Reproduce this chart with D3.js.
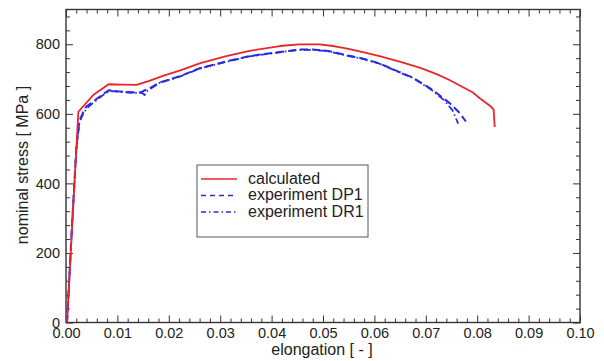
<!DOCTYPE html>
<html>
<head>
<meta charset="utf-8">
<script src="https://cdn.jsdelivr.net/npm/d3@7"></script>
<style>
  html, body { margin: 0; padding: 0; background: #fff; }
  svg { display: block; font-family: "Liberation Sans", Arial, Helvetica, sans-serif; }
</style>
</head>
<body>
<svg id="chart" width="604" height="361"></svg>
<script>
// Tensile test: nominal stress vs elongation
const calcElong  = [0.0002, 0.0024, 0.0053, 0.0083, 0.0110, 0.0137, 0.0162, 0.0190, 0.0221, 0.0260, 0.0310, 0.0357, 0.0416, 0.0454, 0.0493, 0.0520, 0.0545, 0.0580, 0.0610, 0.0649, 0.0688, 0.0720, 0.0745, 0.0790, 0.0805, 0.0826, 0.0832, 0.0834];
const calcStress = [0,      606,    654,    685,    684,    683,    695,    710,    724,    745,    765,    781,    795,    800,    800,    795,    788,    777,    766,    750,    733,    715,    698,    663,    645,    622,    612,    562];

const dp1Elong  = [0.0002, 0.0012, 0.0020, 0.0026, 0.0032, 0.0039, 0.0050, 0.0058, 0.0070, 0.0084, 0.0100, 0.0117, 0.0135, 0.0146, 0.0152, 0.0162, 0.0182, 0.0221, 0.0260, 0.0310, 0.0357, 0.0416, 0.0454, 0.0480, 0.0510, 0.0545, 0.0580, 0.0610, 0.0649, 0.0675, 0.0714, 0.0747, 0.0765, 0.0778];
const dp1Stress = [0,      290,    500,    580,    600,    620,    632,    641,    655,    668,    665,    663,    661,    662,    667,    673,    690,    708,    731,    750,    766,    778,    785,    785,    781,    769,    758,    745,    720,    704,    668,    630,    604,    578];

const dr1Elong  = [0.0002, 0.0012, 0.0020, 0.0026, 0.0032, 0.0040, 0.0050, 0.0060, 0.0072, 0.0085, 0.0100, 0.0117, 0.0135, 0.0148, 0.0153, 0.0156, 0.0164, 0.0182, 0.0221, 0.0260, 0.0310, 0.0357, 0.0416, 0.0454, 0.0480, 0.0510, 0.0545, 0.0580, 0.0610, 0.0649, 0.0675, 0.0710, 0.0735, 0.0752, 0.0763];
const dr1Stress = [0,      285,    495,    575,    596,    615,    628,    640,    654,    666,    664,    662,    660,    660,    654,    664,    672,    689,    707,    730,    749,    765,    777,    784,    784,    780,    768,    757,    744,    719,    703,    670,    640,    610,    572];

const xTicks = [0, 0.01, 0.02, 0.03, 0.04, 0.05, 0.06, 0.07, 0.08, 0.09, 0.10];
const yTicks = [0, 200, 400, 600, 800];
const seriesNames = ["calculated", "experiment DP1", "experiment DR1"];

const svg = d3.select("#chart");
const plotLeft = 66, plotRight = 580, plotTop = 9.5, plotBottom = 322.5;

const x = d3.scaleLinear().domain([0, 0.1]).range([plotLeft, plotRight]);
const y = d3.scaleLinear().domain([0, 900]).range([plotBottom, plotTop]);

const axisColor = "#333";
const xMinorAll = d3.range(0, 0.1001, 0.002);
const yMinorAll = d3.range(0, 900.1, 40);
const minorX = xMinorAll.filter(v => !xTicks.some(t => Math.abs(t - v) < 1e-9));
const minorY = yMinorAll.filter(v => !yTicks.includes(v) && v < 900);

const g = svg.append("g");

// Inward-pointing ticks on all four sides of the frame
function addAxis(axisFn, scale, pos, vals, size, pad, fmt) {
  const a = axisFn(scale).tickValues(vals).tickSizeInner(-size).tickSizeOuter(0)
    .tickPadding(pad || 0).tickFormat(fmt || (() => ""));
  return g.append("g").attr("transform", pos).call(a);
}
addAxis(d3.axisBottom, x, `translate(0,${plotBottom})`, xTicks, 7, 5, d3.format(".2f"));
addAxis(d3.axisTop, x, `translate(0,${plotTop})`, xTicks, 7);
addAxis(d3.axisLeft, y, `translate(${plotLeft},0)`, yTicks, 7, 6, d3.format("d"));
addAxis(d3.axisRight, y, `translate(${plotRight},0)`, yTicks, 7);
addAxis(d3.axisBottom, x, `translate(0,${plotBottom})`, minorX, 4);
addAxis(d3.axisTop, x, `translate(0,${plotTop})`, minorX, 4);
addAxis(d3.axisLeft, y, `translate(${plotLeft},0)`, minorY, 4);
addAxis(d3.axisRight, y, `translate(${plotRight},0)`, minorY, 4);

g.selectAll(".domain").remove();
g.selectAll(".tick line").attr("stroke", axisColor).attr("stroke-width", 1);
g.selectAll(".tick text").attr("fill", "#222").style("font-size", "14.5px")
  .attr("font-family", "Liberation Sans, Arial, sans-serif");

// Frame
g.append("rect").attr("x", plotLeft).attr("y", plotTop)
  .attr("width", plotRight - plotLeft).attr("height", plotBottom - plotTop)
  .attr("fill", "none").attr("stroke", axisColor).attr("stroke-width", 1.4);

// Axis titles
svg.append("text").attr("x", 322).attr("y", 355).attr("text-anchor", "middle")
  .attr("fill", "#222").style("font-size", "16px").text("elongation [ - ]");
svg.append("text").attr("transform", "translate(28,165) rotate(-90)").attr("text-anchor", "middle")
  .attr("fill", "#222").style("font-size", "16px").text("nominal stress [ MPa ]");

// Curves
const line = d3.line().x(d => x(d[0])).y(d => y(d[1]));
const plot = svg.append("g");
const series = [
  { e: dr1Elong, s: dr1Stress, color: "#2a2ae0", dash: "7,3,1.5,3", w: 1.8 },
  { e: dp1Elong, s: dp1Stress, color: "#2a2ae0", dash: "8,4", w: 2 },
  { e: calcElong, s: calcStress, color: "#e8262a", dash: null, w: 1.8 }
];
series.forEach(sr => {
  plot.append("path")
    .datum(d3.zip(sr.e, sr.s))
    .attr("d", line)
    .attr("fill", "none")
    .attr("stroke", sr.color)
    .attr("stroke-width", sr.w)
    .attr("stroke-linejoin", "round")
    .attr("stroke-dasharray", sr.dash);
});

// Legend
const legend = svg.append("g");
legend.append("rect").attr("x", 197).attr("y", 165).attr("width", 171).attr("height", 72)
  .attr("fill", "#fff").attr("stroke", "#555").attr("stroke-width", 1);
const legendStyle = [
  { color: "#e8262a", dash: null },
  { color: "#2a2ae0", dash: "5,4" },
  { color: "#2a2ae0", dash: "5,3,1.5,3" }
];
seriesNames.forEach((name, i) => {
  const rowY = 179 + i * 16.5;
  legend.append("line").attr("x1", 201).attr("x2", 237).attr("y1", rowY).attr("y2", rowY)
    .attr("stroke", legendStyle[i].color).attr("stroke-width", 1.6)
    .attr("stroke-dasharray", legendStyle[i].dash);
  legend.append("text").attr("x", 248).attr("y", rowY + 4.5)
    .attr("fill", "#222").style("font-size", "16px").text(name);
});
</script>
</body>
</html>
